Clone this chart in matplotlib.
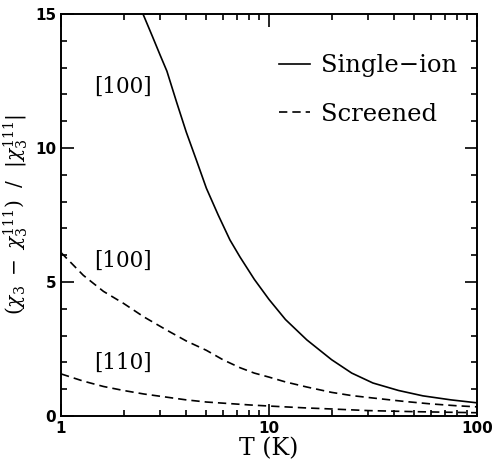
import numpy as np
import matplotlib.pyplot as plt
from matplotlib.ticker import LogLocator, MultipleLocator, NullFormatter

# values
T_single = [2.48, 2.75, 3.0, 3.23, 3.6, 4.0, 4.5, 5.0, 5.7, 6.49, 7.26, 8.5, 10, 12, 15.2, 20, 25, 31.6, 42, 55, 75, 100]
chi_single = [15.0, 14.17, 13.46, 12.87, 11.7, 10.6, 9.5, 8.5, 7.5, 6.57, 5.93, 5.1, 4.35, 3.6, 2.84, 2.1, 1.6, 1.23, 0.95, 0.75, 0.6, 0.49]

T_100 = [1, 1.28, 1.6, 2, 2.5, 3.23, 4, 5, 6, 7.26, 8.5, 10, 12, 15.2, 20, 25, 31.6, 45, 60, 80, 100]
chi_100 = [6.1, 5.25, 4.65, 4.2, 3.7, 3.2, 2.8, 2.45, 2.1, 1.8, 1.6, 1.45, 1.27, 1.08, 0.88, 0.76, 0.67, 0.54, 0.45, 0.38, 0.34]

T_110 = [1, 1.28, 1.6, 2, 2.5, 3.23, 4, 5, 6.5, 8.1, 10, 15, 20, 30, 50, 100]
chi_110 = [1.57, 1.3, 1.1, 0.95, 0.82, 0.7, 0.6, 0.52, 0.46, 0.41, 0.37, 0.3, 0.26, 0.2, 0.16, 0.12]

labels = ["[100]", "[100]", "[110]"]
label_pos = [(1.45, 12.3), (1.45, 5.8), (1.45, 2.0)]

plt.rcParams['mathtext.fontset'] = 'dejavuserif'

fig = plt.figure(figsize=(4.94, 4.70), dpi=100)
ax = fig.add_axes([0.1235, 0.115, 0.842, 0.855])

ax.plot(T_single, chi_single, color='black', lw=1.2, label='Single\u2212ion')
ax.plot(T_100, chi_100, color='black', lw=1.2, dashes=(5, 3), label='Screened')
ax.plot(T_110, chi_110, color='black', lw=1.2, dashes=(5, 3))

for s, (x, y) in zip(labels, label_pos):
    ax.text(x, y, s, family='DejaVu Serif', fontsize=15.5, va='center')

ax.set_xscale('log')
ax.set_xlim(1, 100)
ax.set_ylim(0, 15)
ax.set_yticks([0, 5, 10, 15])
ax.yaxis.set_minor_locator(MultipleLocator(1))
ax.xaxis.set_major_locator(LogLocator(base=10))
ax.xaxis.set_minor_locator(LogLocator(base=10, subs=np.arange(2, 10)))
ax.xaxis.set_minor_formatter(NullFormatter())
ax.set_xticks([1, 10, 100])
ax.set_xticklabels(['1', '10', '100'])

ax.tick_params(which='both', direction='in', top=True, right=True, width=1.2)
ax.tick_params(which='major', length=9, labelsize=11)
ax.tick_params(which='minor', length=4.5)
for lab in ax.get_xticklabels() + ax.get_yticklabels():
    lab.set_fontweight('bold')
    lab.set_family('DejaVu Sans')
for sp in ax.spines.values():
    sp.set_linewidth(1.4)

ax.set_xlabel('T (K)', family='DejaVu Serif', fontsize=17, labelpad=1)
ax.set_ylabel(r'$(\chi_3\ -\ \chi_3^{111})\ \ /\ \ |\chi_3^{111}|$', fontsize=14.5)
ax.yaxis.set_label_coords(-0.075, 0.5)

ax.legend(loc='upper right', frameon=False, handlelength=1.3, handletextpad=0.45,
          labelspacing=1.05, prop={'family': 'DejaVu Serif', 'size': 17.5},
          bbox_to_anchor=(1.005, 0.955))

fig.savefig('out.png', dpi=100)
